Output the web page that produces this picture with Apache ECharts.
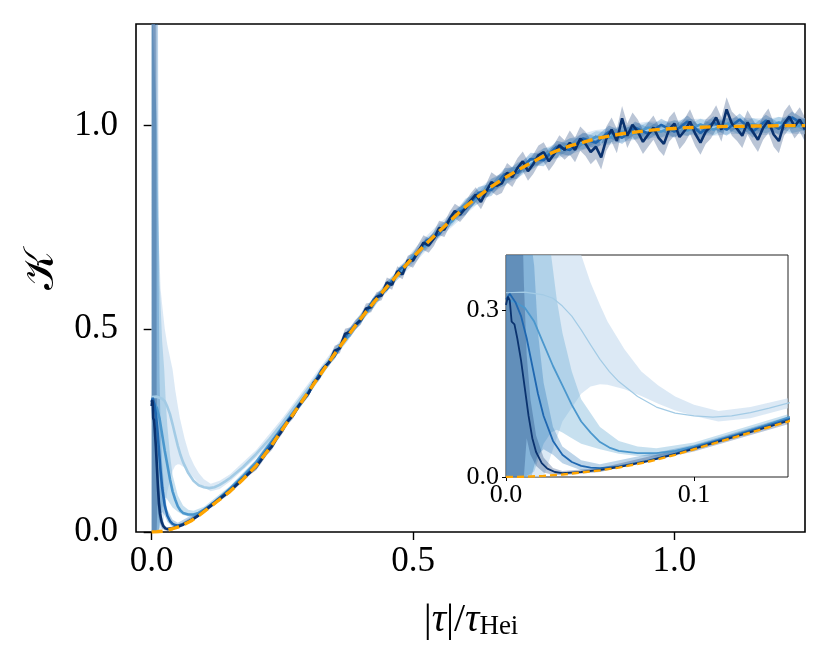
<!DOCTYPE html>
<html><head><meta charset="utf-8">
<script src="https://cdn.jsdelivr.net/npm/echarts@6/dist/echarts.min.js"></script>
<style>html,body{margin:0;padding:0;background:#fff}#c{width:830px;height:664px}</style>
</head><body><div id="c"></div>
<script>
// ---------- DATA ----------
const xTicksMain = [0, 0.5, 1.0];
const yTicksMain = [0, 0.5, 1.0];
const xTicksInset = [0, 0.1];
const yTicksInset = [0, 0.3];

const farX = [0.3,0.325,0.35,0.375,0.4,0.425,0.45,0.475,0.5,0.525,0.55,0.575,0.6,0.625,0.65,0.675,0.7,0.725,0.75,0.775,0.8,0.825,0.85,0.875,0.9,0.925,0.95,0.975,1,1.025,1.05,1.075,1.1,1.125,1.15,1.175,1.2,1.225,1.25];

// theory (orange dashed)
const theoryNearX = [0,0.01,0.02,0.03,0.04,0.05,0.06,0.075,0.09,0.1,0.125,0.15,0.175,0.2,0.225,0.25,0.275];
const theoryNearY = [0,0.0005,0.002,0.0045,0.008,0.012,0.017,0.027,0.04,0.05,0.075,0.1,0.13,0.163,0.205,0.252,0.298];
const theoryFarY = [0.345,0.392,0.438,0.482,0.525,0.565,0.603,0.640,0.676,0.709,0.740,0.770,0.800,0.826,0.850,0.871,0.890,0.908,0.925,0.938,0.950,0.959,0.968,0.974,0.980,0.984,0.988,0.991,0.993,0.995,0.996,0.997,0.998,0.998,0.999,0.999,1.000,1.000,1.000];

// navy (darkest) curve
const navyNearX = [0,0.001,0.002,0.003,0.0045,0.006,0.008,0.010,0.012,0.014,0.016,0.019,0.022,0.026,0.03,0.04,0.05,0.06,0.075,0.09,0.1,0.125,0.15,0.175];
const navyNearY = [0.31,0.325,0.318,0.28,0.275,0.25,0.21,0.16,0.11,0.07,0.045,0.025,0.015,0.009,0.007,0.009,0.013,0.018,0.028,0.041,0.051,0.076,0.101,0.131];
const navyFarX = [0.20,0.21,0.22,0.23,0.24,0.25,0.26,0.27,0.28,0.29,
  0.30,0.31,0.32,0.33,0.34,0.35,0.36,0.37,0.38,0.39,
  0.40,0.41,0.42,0.43,0.44,0.45,0.46,0.47,0.48,0.49,
  0.50,0.51,0.52,0.53,0.54,0.55,0.56,0.57,0.58,0.59,
  0.60,0.61,0.62,0.63,0.64,0.65,0.66,0.67,0.68,0.69,
  0.70,0.71,0.72,0.73,0.74,0.75,0.76,0.77,0.78,0.79,
  0.80,0.81,0.82,0.83,0.84,0.85,0.86,0.87,0.88,0.89,
  0.90,0.91,0.92,0.93,0.94,0.95,0.96,0.97,0.98,0.99,
  1.00,1.01,1.02,1.03,1.04,1.05,1.06,1.07,1.08,1.09,
  1.10,1.11,1.12,1.13,1.14,1.15,1.16,1.17,1.18,1.19,
  1.20,1.21,1.22,1.23,1.24,1.25];
const navyFarY = [0.160,0.178,0.196,0.210,0.232,0.250,0.272,0.286,0.308,0.326,
  0.341,0.368,0.380,0.405,0.418,0.446,0.452,0.488,0.492,0.510,
  0.522,0.550,0.553,0.578,0.582,0.614,0.608,0.642,0.634,0.668,
  0.668,0.690,0.712,0.705,0.722,0.748,0.744,0.770,0.790,0.781,
  0.796,0.815,0.830,0.812,0.838,0.861,0.852,0.858,0.884,0.873,
  0.896,0.912,0.888,0.905,0.927,0.935,0.912,0.930,0.952,0.940,
  0.958,0.940,0.968,0.955,0.935,0.948,0.922,0.968,0.990,0.962,
  1.018,0.975,1.002,0.985,0.960,0.978,0.995,0.970,0.955,0.990,
  1.005,0.972,0.988,1.010,0.980,0.958,0.985,0.998,1.020,0.990,
  1.040,1.005,0.992,0.975,1.008,0.985,0.965,0.995,1.012,0.978,
  0.962,1.005,1.022,0.998,1.015,0.990];
const navyBandNearX  = [0,0.009,0.0095,0.011,0.013,0.016,0.02,0.025,0.03,0.05,0.1,0.15,0.19];
const navyBandNearHi = [9,9,0.35,0.22,0.14,0.075,0.035,0.016,0.011,0.016,0.056,0.107,0.155];
const navyBandNearLo = [0,0,0,0.07,0.04,0.02,0.008,0.004,0.003,0.009,0.046,0.095,0.143];
const navyHalf = [[0.2,0.008],[0.35,0.012],[0.5,0.018],[0.65,0.024],[0.8,0.03]];

// blue curve
const blueNearX = [0,0.002,0.005,0.008,0.011,0.014,0.017,0.02,0.025,0.03,0.035,0.04,0.045,0.05,0.06,0.075,0.09,0.1,0.125,0.15,0.175,0.2,0.25];
const blueNearY = [0.32,0.33,0.315,0.29,0.25,0.2,0.15,0.11,0.065,0.04,0.027,0.02,0.017,0.016,0.019,0.029,0.042,0.053,0.078,0.104,0.133,0.165,0.255];
const blueFarY = [0.342,0.398,0.433,0.490,0.520,0.572,0.598,0.647,0.671,0.716,0.733,0.778,0.795,0.834,0.842,0.880,0.884,0.918,0.915,0.948,0.940,0.968,0.958,0.985,0.970,0.995,0.980,1.002,0.985,1.010,0.982,1.008,0.990,1.015,0.985,1.012,0.992,1.020,1.000];
const blueBandNearX  = [0,0.012,0.0135,0.015,0.017,0.02,0.025,0.03,0.04,0.05,0.1,0.15,0.2,0.25];
const blueBandNearHi = [9,9,0.6,0.38,0.26,0.17,0.09,0.055,0.03,0.023,0.058,0.109,0.171,0.263];
const blueBandNearLo = [0,0,0,0.02,0.04,0.05,0.04,0.025,0.012,0.01,0.048,0.099,0.159,0.247];
const blueHalf = [[0.3,0.008],[0.6,0.015]];

// mid-light curve
const midNearX = [0,0.005,0.01,0.015,0.02,0.025,0.03,0.035,0.04,0.045,0.05,0.055,0.06,0.07,0.08,0.09,0.1,0.11,0.12,0.135,0.15,0.175,0.2,0.25];
const midNearY = [0.32,0.315,0.305,0.28,0.24,0.2,0.165,0.13,0.1,0.08,0.063,0.053,0.047,0.043,0.043,0.047,0.055,0.064,0.074,0.09,0.107,0.138,0.172,0.258];
const midFarY = [0.346,0.392,0.440,0.480,0.527,0.562,0.607,0.637,0.679,0.705,0.745,0.765,0.806,0.822,0.855,0.866,0.895,0.903,0.930,0.934,0.955,0.955,0.972,0.970,0.985,0.980,0.995,0.985,1.000,0.988,1.003,0.990,1.005,0.992,1.004,0.995,1.008,0.996,1.003];
const midBandNearX  = [0,0.01,0.015,0.02,0.024,0.027,0.03,0.035,0.04,0.05,0.06,0.07,0.08,0.1,0.15,0.2,0.25];
const midBandNearHi = [9,1.0,0.62,0.47,0.40,0.32,0.26,0.19,0.14,0.09,0.065,0.055,0.052,0.062,0.113,0.179,0.27];
const midBandNearLo = [0,0,0.01,0.06,0.08,0.085,0.08,0.07,0.06,0.05,0.042,0.038,0.037,0.048,0.1,0.165,0.246];
const midHalf = [[0.25,0.01],[0.6,0.014]];

// lightest curve
const lightNearX = [0,0.01,0.02,0.025,0.03,0.035,0.04,0.045,0.05,0.055,0.06,0.07,0.08,0.09,0.1,0.11,0.12,0.13,0.14,0.15,0.175,0.2,0.225,0.25];
const lightNearY = [0.332,0.333,0.328,0.322,0.308,0.29,0.265,0.238,0.212,0.19,0.172,0.145,0.126,0.115,0.11,0.108,0.11,0.116,0.124,0.133,0.16,0.192,0.228,0.268];
const lightFarY = [0.354,0.398,0.442,0.484,0.526,0.566,0.604,0.639,0.675,0.710,0.741,0.769,0.798,0.827,0.851,0.870,0.889,0.909,0.926,0.937,0.948,0.960,0.969,0.973,0.979,0.985,0.990,0.990,0.992,0.996,0.997,0.995,0.998,1.000,0.999,0.997,1.001,1.000,0.999];
const lightBandNearX  = [0,0.006,0.01,0.017,0.02,0.025,0.03,0.04,0.045,0.05,0.054,0.063,0.072,0.081,0.09,0.1,0.113,0.13,0.15,0.2,0.25];
const lightBandNearHi = [9,1.3,0.85,0.6,0.56,0.5,0.46,0.4,0.35,0.31,0.28,0.23,0.19,0.165,0.145,0.13,0.119,0.126,0.142,0.202,0.28];
const lightBandNearLo = [0,0,0,0,0,0.05,0.10,0.15,0.163,0.167,0.166,0.158,0.146,0.132,0.12,0.11,0.1,0.106,0.124,0.182,0.256];
const lightHalf = [[0.25,0.012],[0.5,0.018],[0.8,0.02]];

// ---------- BUILD ----------
function lookup(table, x){ let v = table[0][1]; for (const t of table) if (x >= t[0]) v = t[1]; return v; }
function pairs(xs, ys){ return xs.map((x,i)=>[x, ys[i]]); }
function makeBand(nx, nlo, nhi, lx, ly, startX, half){
  const bx = nx.slice(), lo = nlo.slice(), hi = nhi.slice();
  for (let i = 0; i < lx.length; i++) if (lx[i] >= startX){ const h = lookup(half, lx[i]); bx.push(lx[i]); lo.push(ly[i]-h); hi.push(ly[i]+h); }
  return {x: bx, lo: lo, hi: hi};
}
const theoryX = theoryNearX.concat(farX), theoryY = theoryNearY.concat(theoryFarY);
const navyX = navyNearX.concat(navyFarX), navyY = navyNearY.concat(navyFarY);
const blueX = blueNearX.concat(farX), blueY = blueNearY.concat(blueFarY);
const midX = midNearX.concat(farX), midY = midNearY.concat(midFarY);
const lightX = lightNearX.concat(farX), lightY = lightNearY.concat(lightFarY);

const bands = [
  {b: makeBand(lightBandNearX, lightBandNearLo, lightBandNearHi, lightX, lightY, 0.3, lightHalf), color:'#c6dbef', op:0.62},
  {b: makeBand(midBandNearX, midBandNearLo, midBandNearHi, midX, midY, 0.3, midHalf), color:'#6baed6', op:0.38},
  {b: makeBand(blueBandNearX, blueBandNearLo, blueBandNearHi, blueX, blueY, 0.3, blueHalf), color:'#2171b5', op:0.3},
  {b: makeBand(navyBandNearX, navyBandNearLo, navyBandNearHi, navyX, navyY, 0.2, navyHalf), color:'#08306b', op:0.28}
];

const colors = {light:'#a3cbe5', mid:'#4b97cd', blue:'#1f67b0', navy:'#0a326e', theory:'#ffa500'};

function seriesFor(g, yMax, inset){
  const s = [];
  bands.forEach((bd, k) => {
    s.push({
      type:'custom', xAxisIndex:g, yAxisIndex:g, clip:true, silent:true, z:1+k,
      data:[[bd.b.x[0], 0]],
      renderItem: function(params, api){
        const pts = [];
        for (let i = 0; i < bd.b.x.length; i++) pts.push(api.coord([bd.b.x[i], Math.min(bd.b.hi[i], yMax*1.05)]));
        for (let i = bd.b.x.length-1; i >= 0; i--) pts.push(api.coord([bd.b.x[i], Math.max(bd.b.lo[i], 0)]));
        return {type:'polygon', shape:{points:pts}, style:{fill:bd.color, opacity:bd.op}};
      }
    });
  });
  const lw = inset ? [1.2, 1.8, 1.8, 1.8] : [2.6, 2.6, 2.6, 2.6];
  const lines = [[lightX, lightY, colors.light, lw[0]], [midX, midY, colors.mid, lw[1]], [blueX, blueY, colors.blue, lw[2]], [navyX, navyY, colors.navy, lw[3]]];
  lines.forEach((l, k) => {
    s.push({type:'line', xAxisIndex:g, yAxisIndex:g, data:pairs(l[0], l[1]), showSymbol:false, symbol:'none', clip:true, silent:true, z:10+k,
      lineStyle:{color:l[2], width:l[3]}});
  });
  s.push({type:'line', xAxisIndex:g, yAxisIndex:g, data:pairs(theoryX, theoryY), showSymbol:false, symbol:'none', clip:true, silent:true, z:20,
    lineStyle:{color:colors.theory, width: inset ? 2.4 : 3.4, type: inset ? [7,4] : [11,6]}});
  return s;
}

const font = 'Liberation Serif';
const chart = echarts.init(document.getElementById('c'), null, {renderer:'canvas'});
chart.setOption({
  animation:false,
  backgroundColor:'#fff',
  grid:[
    {left:136, right:25, top:24, bottom:132, show:true, borderColor:'#000', borderWidth:1.6, backgroundColor:'transparent'},
    {left:506, right:42, top:255, bottom:187, show:true, borderColor:'#222', borderWidth:1, backgroundColor:'#fff', z:5}
  ],
  xAxis:[
    {type:'value', gridIndex:0, min:-0.03, max:1.25, splitLine:{show:false},
      axisLine:{show:false}, axisTick:{show:true, customValues:xTicksMain, length:8, lineStyle:{color:'#000', width:1.4}},
      axisLabel:{customValues:xTicksMain, formatter:v=>v.toFixed(1), fontSize:35, fontFamily:font, color:'#000', margin:12}},
    {type:'value', gridIndex:1, min:0, max:0.15, splitLine:{show:false}, z:6,
      axisLine:{show:false}, axisTick:{show:true, customValues:xTicksInset, length:4, lineStyle:{color:'#000', width:1}},
      axisLabel:{customValues:xTicksInset, formatter:v=>v.toFixed(1), fontSize:26, fontFamily:font, color:'#000', margin:5}}
  ],
  yAxis:[
    {type:'value', gridIndex:0, min:0, max:1.25, splitLine:{show:false},
      axisLine:{show:false}, axisTick:{show:true, customValues:yTicksMain, length:8, lineStyle:{color:'#000', width:1.4}},
      axisLabel:{customValues:yTicksMain, formatter:v=>v.toFixed(1), fontSize:35, fontFamily:font, color:'#000', margin:18}},
    {type:'value', gridIndex:1, min:0, max:0.4, splitLine:{show:false}, z:6,
      axisLine:{show:false}, axisTick:{show:true, customValues:yTicksInset, length:4, lineStyle:{color:'#000', width:1}},
      axisLabel:{customValues:yTicksInset, formatter:v=>v.toFixed(1), fontSize:26, fontFamily:font, color:'#000', margin:7}}
  ],
  series: seriesFor(0, 1.25, false).concat(seriesFor(1, 0.4, true).map(s => Object.assign(s, {z:(s.z||0)+30}))),
  graphic:[
    {type:'text', x:42, y:270, rotation:Math.PI/2, style:{text:'𝒦', font:'42px "DejaVu Serif"', fill:'#000', align:'center', verticalAlign:'middle'}},
    {type:'text', x:471, y:616, style:{
      text:'{n||}{i|τ}{n||/}{i|τ}{s|Hei}', align:'center', verticalAlign:'middle',
      rich:{
        n:{fontSize:40, fontFamily:font, lineHeight:48, verticalAlign:'bottom', fill:'#000'},
        i:{fontSize:40, fontFamily:font, fontStyle:'italic', lineHeight:48, verticalAlign:'bottom', fill:'#000'},
        s:{fontSize:27, fontFamily:font, lineHeight:22, verticalAlign:'bottom', fill:'#000'}
      }}}
  ]
});
</script></body></html>
